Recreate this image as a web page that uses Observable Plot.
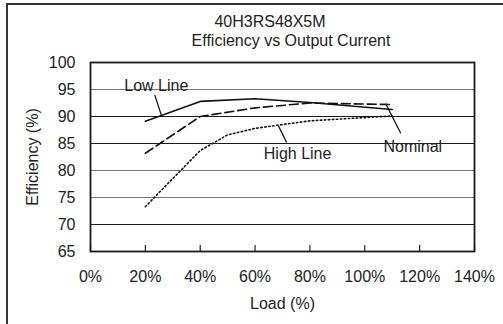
<!DOCTYPE html>
<html>
<head>
<meta charset="utf-8">
<script src="https://cdn.jsdelivr.net/npm/d3@7"></script>
<script src="https://cdn.jsdelivr.net/npm/@observablehq/plot@0.6"></script>
<style>
html, body { margin: 0; padding: 0; background: #fff; }
#wrap { position: relative; width: 503px; height: 324px; overflow: hidden; font-family: "Liberation Sans", Arial, sans-serif; color: #222; }
#chart { position: absolute; left: 0; top: 0; }
#border { position: absolute; left: 6px; top: 3px; right: -10px; bottom: -10px; border-top: 2px solid #333; border-left: 2px solid #333; pointer-events: none; }
.title { position: absolute; font-size: 16px; white-space: nowrap; transform: translate(-50%, -50%); }
</style>
</head>
<body>
<div id="wrap">
  <div id="chart"></div>
  <div id="border"></div>
  <div class="title" style="left:270px; top:22px;">40H3RS48X5M</div>
  <div class="title" style="left:291px; top:41px;">Efficiency vs Output Current</div>
</div>
<script>
// Data
const load = [20, 40, 60, 80, 110];
const lowLine = [89.1, 92.8, 93.3, 92.6, 91.3];
const nominal = [83.2, 90.0, 91.6, 92.5, 92.2];
const highLoad = [20, 40, 50, 60, 80, 110];
const highLine = [73.3, 83.7, 86.6, 87.8, 89.2, 90.1];

const xTicks = [0, 20, 40, 60, 80, 100, 120, 140];
const yTicks = [65, 70, 75, 80, 85, 90, 95, 100];
const gridValues = [70, 75, 80, 85, 90, 95];

// Annotation labels and leader lines (data units)
const annoText = ["Low Line", "High Line", "Nominal"];
const annoX = [24.0, 75.5, 117.5];
const annoY = [95.75, 83.1, 84.3];
const leadX1 = [23.4, 68.5, 107.6];
const leadY1 = [94.0, 88.3, 92.4];
const leadX2 = [25.8, 71.5, 113.1];
const leadY2 = [90.3, 85.2, 86.9];

const low = load.map((x, i) => ({x, y: lowLine[i]}));
const nom = load.map((x, i) => ({x, y: nominal[i]}));
const high = highLoad.map((x, i) => ({x, y: highLine[i]}));
const anno = annoText.map((t, i) => ({t, x: annoX[i], y: annoY[i]}));
const leads = annoText.map((t, i) => ({x1: leadX1[i], y1: leadY1[i], x2: leadX2[i], y2: leadY2[i]}));

const darkGrid = new Set([70, 85, 90]);

const chart = Plot.plot({
  width: 503,
  height: 324,
  marginLeft: 90,
  marginRight: 29,
  marginTop: 62,
  marginBottom: 73,
  style: { fontFamily: "'Liberation Sans', Arial, sans-serif", fontSize: "16px", color: "#222", background: "transparent" },
  x: { domain: [0, 140] },
  y: { domain: [65, 100] },
  marks: [
    Plot.ruleY(gridValues, { stroke: d => darkGrid.has(d) ? "#1a1a1a" : "#777", strokeWidth: 1.2 }),
    Plot.axisX({ ticks: xTicks, tickFormat: d => d + "%", tickSize: -6, tickPadding: 25, strokeWidth: 1.2, stroke: "#222",
                 label: "Load (%)", labelAnchor: "center", labelOffset: 57, labelArrow: "none" }),
    Plot.axisY({ ticks: yTicks, tickSize: 0, tickPadding: 15,
                 label: "Efficiency (%)", labelAnchor: "center", labelOffset: 64, labelArrow: "none" }),
    Plot.line(low, { x: "x", y: "y", stroke: "#111", strokeWidth: 1.6 }),
    Plot.line(nom, { x: "x", y: "y", stroke: "#111", strokeWidth: 1.6, strokeDasharray: "9,4" }),
    Plot.line(high, { x: "x", y: "y", stroke: "#111", strokeWidth: 1.6, strokeDasharray: "1.5,2.5" }),
    Plot.link(leads, { x1: "x1", y1: "y1", x2: "x2", y2: "y2", stroke: "#111", strokeWidth: 1.3 }),
    Plot.text(anno, { x: "x", y: "y", text: "t", fontSize: 16, fill: "#222", textAnchor: "middle", lineAnchor: "middle" }),
    Plot.frame({ stroke: "#1a1a1a", strokeWidth: 1.8 })
  ]
});
document.getElementById("chart").appendChild(chart);
</script>
</body>
</html>
